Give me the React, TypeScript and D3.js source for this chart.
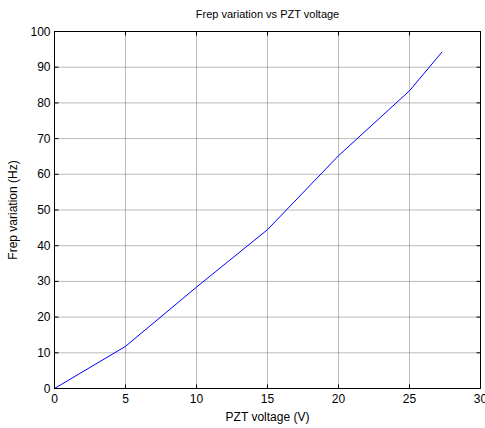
import React from "react";
import * as d3 from "d3";

const voltage = [0, 5, 10, 15, 20, 25, 27.3];
const frepVariation = [0, 11.8, 28.4, 44.5, 65.2, 83.4, 94.3];
const xTicks = [0, 5, 10, 15, 20, 25, 30];
const yTicks = [0, 10, 20, 30, 40, 50, 60, 70, 80, 90, 100];

const W = 485;
const H = 428;
const left = 54.5;
const right = 480.5;
const top = 31.5;
const bottom = 388.5;

export default function App() {
  const x = d3.scaleLinear().domain([0, 30]).range([left, right]);
  const y = d3.scaleLinear().domain([0, 100]).range([bottom, top]);
  const line = d3
    .line<number>()
    .x((_, i) => x(voltage[i]))
    .y((d) => y(d));
  const font = "'Liberation Sans', Arial, sans-serif";
  const tk = 4;
  return (
    <svg
      width={W}
      height={H}
      style={{ position: "absolute", left: 0, top: 0, background: "#fff" }}
      fontFamily={font}
    >
      <rect x={0} y={0} width={W} height={H} fill="#fff" />
      {xTicks.slice(1, -1).map((t) => (
        <line key={"gx" + t} x1={x(t)} x2={x(t)} y1={top} y2={bottom} stroke="#777" strokeWidth={1} strokeDasharray="1,1" />
      ))}
      {yTicks.slice(1, -1).map((t) => (
        <line key={"gy" + t} x1={left} x2={right} y1={y(t)} y2={y(t)} stroke="#777" strokeWidth={1} strokeDasharray="1,1" />
      ))}
      {xTicks.map((t) => (
        <g key={"tx" + t}>
          <line x1={x(t)} x2={x(t)} y1={bottom} y2={bottom - tk} stroke="#000" />
          <line x1={x(t)} x2={x(t)} y1={top} y2={top + tk} stroke="#000" />
          <text x={x(t)} y={bottom + 14} fontSize={12} textAnchor="middle">{t}</text>
        </g>
      ))}
      {yTicks.map((t) => (
        <g key={"ty" + t}>
          <line x1={left} x2={left + tk} y1={y(t)} y2={y(t)} stroke="#000" />
          <line x1={right} x2={right - tk} y1={y(t)} y2={y(t)} stroke="#000" />
          <text x={left - 4} y={y(t) + 4} fontSize={12} textAnchor="end">{t}</text>
        </g>
      ))}
      <path d={line(frepVariation) || ""} fill="none" stroke="#0000ff" strokeWidth={1} />
      <rect x={left} y={top} width={right - left} height={bottom - top} fill="none" stroke="#000" strokeWidth={1} />
      <text x={(left + right) / 2} y={18} fontSize={11} textAnchor="middle">Frep variation vs PZT voltage</text>
      <text x={(left + right) / 2} y={421} fontSize={12} textAnchor="middle">PZT voltage (V)</text>
      <text transform={`translate(17,${(top + bottom) / 2}) rotate(-90)`} fontSize={12} textAnchor="middle">Frep variation (Hz)</text>
    </svg>
  );
}
